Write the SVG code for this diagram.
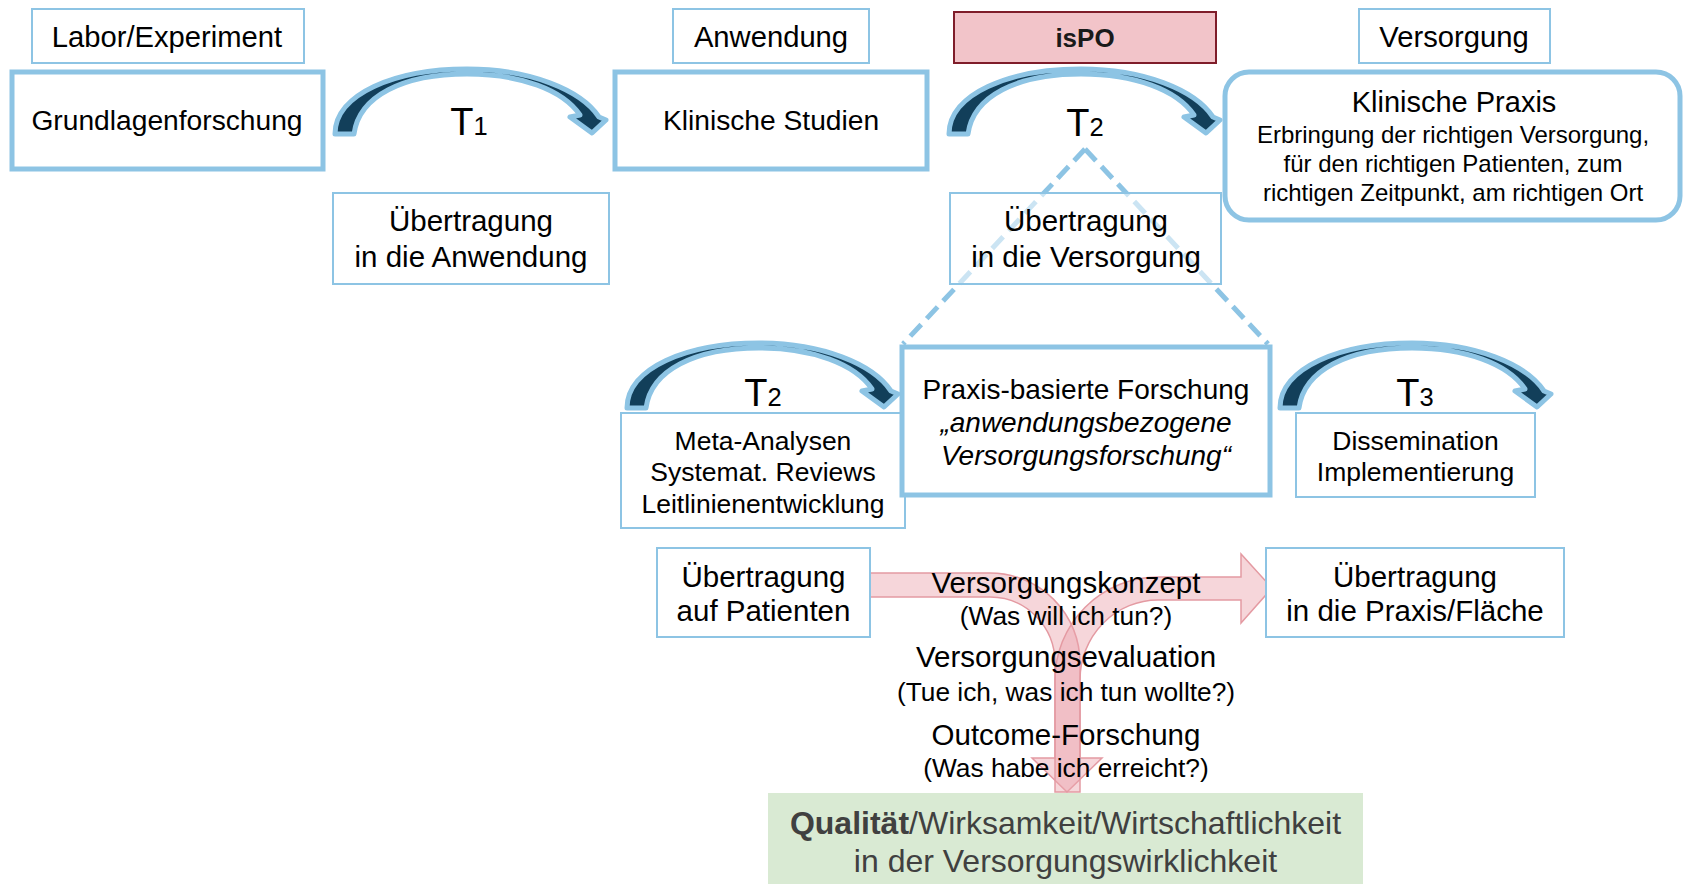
<svg xmlns="http://www.w3.org/2000/svg" width="1684" height="884" viewBox="0 0 1684 884">
<defs>
<style>
text{font-family:"Liberation Sans",Arial,sans-serif;fill:#000;text-anchor:middle}
.thin{fill:#fff;stroke:#8dc4e4;stroke-width:2}
.thick{fill:#fff;stroke:#8dc4e4;stroke-width:5}
.lbl{font-size:29.2px}
.box{font-size:28.2px}
.ub{font-size:29.5px}
.mid{font-size:29.5px}
.t26{font-size:26.5px}
.t24{font-size:24px}
.q{font-size:26.3px}
.T{font-size:38px}
.pink{fill:#eba5ad;fill-opacity:0.45;stroke:#e49aa2;stroke-width:1.5}
.dash{fill:none;stroke:#8dc4e4;stroke-width:5;stroke-dasharray:16 8}
.carrow{fill:#123f5a;stroke:#8dc4e4;stroke-width:5;stroke-linejoin:round}
</style>
<path id="carrow" d="M0,0 C0,-40 60,-65 132,-65 C195,-65 246,-44 264,-17 L271,-14 L257,-1 L235,-17 L245,-19 C228,-44 186,-60 132,-60 C68,-60 24,-38 19,0 Z"/>
</defs>
<rect width="1684" height="884" fill="#fff"/>

<g id="connectors">
  <g id="triangle">
    <path class="dash" d="M1085,149 L903,344"/>
    <path class="dash" d="M1085,149 L1268,344"/>
  </g>
  <g id="arrow-T1"><use href="#carrow" class="carrow" transform="translate(335,134)"/>
    <text class="T" x="469" y="135">T<tspan font-size="25.5">1</tspan></text></g>
  <g id="arrow-T2-top"><use href="#carrow" class="carrow" transform="translate(949,134)"/>
    <text class="T" x="1085" y="136">T<tspan font-size="25.5">2</tspan></text></g>
  <g id="arrow-T2-mid"><use href="#carrow" class="carrow" transform="translate(627,408)"/>
    <text class="T" x="763" y="406">T<tspan font-size="25.5">2</tspan></text></g>
  <g id="arrow-T3"><use href="#carrow" class="carrow" transform="translate(1280,408)"/>
    <text class="T" x="1415" y="406">T<tspan font-size="25.5">3</tspan></text></g>
  <g id="split-arrow">
    <path class="pink" d="M863,573 L990,573 A90,90 0 0 1 1080,663 L1080,758 L1102,758 L1067,792 L1032,758 L1055,758 L1055,663 A65,66 0 0 0 990,597 L863,597 Z"/>
    <path class="pink" d="M1055,792 L1055,680 A103,103 0 0 1 1158,577 L1241,577 L1241,554 L1272,588 L1241,623 L1241,600 L1158,600 A78,80 0 0 0 1080,680 L1080,792 Z"/>
  </g>
</g>

<g id="labor"><rect class="thin" x="32" y="9" width="272" height="54"/><text class="lbl" x="167" y="47">Labor/Experiment</text></g>
<g id="anwendung"><rect class="thin" x="673" y="9" width="196" height="54"/><text class="lbl" x="771" y="47">Anwendung</text></g>
<g id="ispo"><rect x="954" y="12" width="262" height="51" fill="#f2c4c9" stroke="#7f1d2a" stroke-width="2"/><text x="1085" y="47" font-size="26" font-weight="bold" style="fill:#1a1a1a">isPO</text></g>
<g id="versorgung"><rect class="thin" x="1359" y="9" width="191" height="54"/><text class="lbl" x="1454" y="47">Versorgung</text></g>

<g id="grundlagen"><rect class="thick" x="12" y="72" width="311" height="97"/><text class="box" x="167" y="130">Grundlagenforschung</text></g>
<g id="klin-studien"><rect class="thick" x="615" y="72" width="312" height="97"/><text class="box" x="771" y="130">Klinische Studien</text></g>
<g id="klin-praxis"><rect class="thick" x="1225" y="72" width="455" height="148" rx="24"/>
  <text x="1454" y="112" font-size="29">Klinische Praxis</text>
  <text class="t24" x="1453" y="143">Erbringung der richtigen Versorgung,</text>
  <text class="t24" x="1453" y="172">für den richtigen Patienten, zum</text>
  <text class="t24" x="1453" y="201">richtigen Zeitpunkt, am richtigen Ort</text></g>

<g id="uebertr-anwendung"><rect class="thin" x="333" y="193" width="276" height="91"/>
  <text class="ub" x="471" y="231">Übertragung</text><text class="ub" x="471" y="267">in die Anwendung</text></g>
<g id="uebertr-versorgung"><rect class="thin" x="950" y="193" width="271" height="91" fill-opacity="0.55"/>
  <text class="ub" x="1086" y="231">Übertragung</text><text class="ub" x="1086" y="267">in die Versorgung</text></g>

<g id="meta"><rect class="thin" x="621" y="413" width="284" height="115"/>
  <text class="t26" x="763" y="450">Meta-Analysen</text><text class="t26" x="763" y="481">Systemat. Reviews</text><text class="t26" x="763" y="513">Leitlinienentwicklung</text></g>
<g id="praxisbasiert"><rect class="thick" x="902" y="347" width="368" height="148"/>
  <text x="1086" y="399" font-size="28">Praxis-basierte Forschung</text>
  <text x="1086" y="432" font-size="28" font-style="italic">„anwendungsbezogene</text>
  <text x="1086" y="465" font-size="28" font-style="italic">Versorgungsforschung“</text></g>
<g id="dissemination"><rect class="thin" x="1296" y="413" width="239" height="84"/>
  <text class="t26" x="1415.5" y="450">Dissemination</text><text class="t26" x="1415.5" y="481">Implementierung</text></g>

<g id="uebertr-patienten"><rect class="thin" x="657" y="548" width="213" height="89" fill="none"/>
  <text class="ub" x="763.5" y="587">Übertragung</text><text class="ub" x="763.5" y="621">auf Patienten</text></g>
<g id="uebertr-praxis"><rect class="thin" x="1266" y="548" width="298" height="89" fill="none"/>
  <text class="ub" x="1415" y="587">Übertragung</text><text class="ub" x="1415" y="621">in die Praxis/Fläche</text></g>

<g id="stages">
  <text class="mid" x="1066" y="593">Versorgungskonzept</text>
  <text class="q" x="1066" y="625">(Was will ich tun?)</text>
  <text class="mid" x="1066" y="667">Versorgungsevaluation</text>
  <text class="q" x="1066" y="701">(Tue ich, was ich tun wollte?)</text>
  <text class="mid" x="1066" y="745">Outcome-Forschung</text>
  <text class="q" x="1066" y="777">(Was habe ich erreicht?)</text>
</g>

<g id="qualitaet"><rect x="768" y="793" width="595" height="91" fill="#d9ead3"/>
  <text x="1065.5" y="834" font-size="32" style="fill:#404040"><tspan font-weight="bold">Qualität</tspan>/Wirksamkeit/Wirtschaftlichkeit</text>
  <text x="1065.5" y="872" font-size="32" style="fill:#404040">in der Versorgungswirklichkeit</text></g>
</svg>
